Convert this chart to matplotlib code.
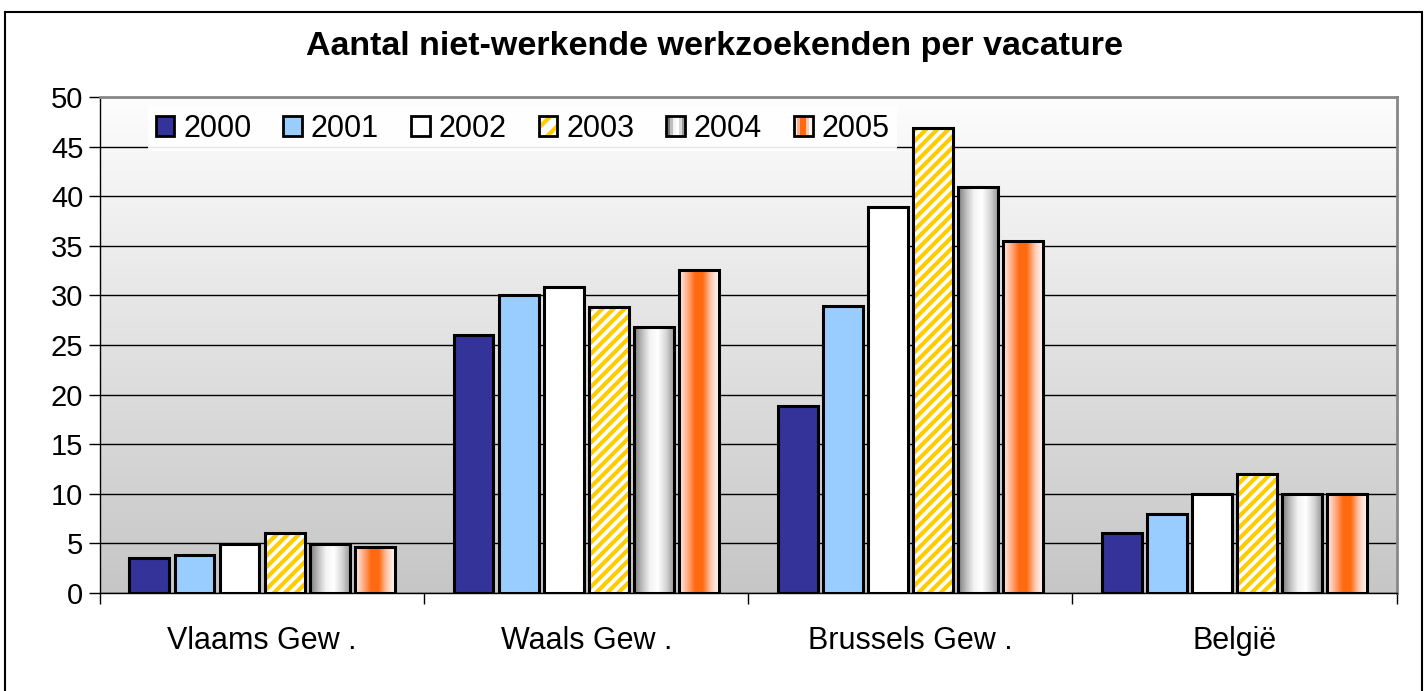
import numpy as np
import matplotlib
matplotlib.use("Agg")
import matplotlib.pyplot as plt
from matplotlib.patches import Rectangle, Patch
from matplotlib.legend_handler import HandlerBase
from matplotlib.colors import LinearSegmentedColormap

plt.rcParams['font.family'] = ['Liberation Sans', 'DejaVu Sans']
plt.rcParams['hatch.linewidth'] = 3.0

# data
categories = ["Vlaams Gew .", "Waals Gew .", "Brussels Gew .", "België"]
years = ["2000", "2001", "2002", "2003", "2004", "2005"]
v2000 = [3.5, 26.0, 18.9, 6.0]
v2001 = [3.8, 30.0, 28.9, 8.0]
v2002 = [4.9, 30.8, 38.9, 10.0]
v2003 = [6.0, 28.8, 46.9, 12.0]
v2004 = [4.9, 26.8, 40.9, 10.0]
v2005 = [4.6, 32.6, 35.5, 10.0]
series = [v2000, v2001, v2002, v2003, v2004, v2005]

# styles
grey_grad = ["#7a7a7a", "#bdbdbd", "#f4f4f4", "#ffffff", "#d8d8d8", "#9a9a9a"]
orange_grad = ["#fff2ee", "#ffb08a", "#ff6a10", "#ff6a10", "#ffc9b0", "#fffaf8"]
styles = [
    dict(kind="solid", color="#333399"),
    dict(kind="solid", color="#99CCFF"),
    dict(kind="solid", color="#FFFFFF"),
    dict(kind="hatch", color="#FFCC00"),
    dict(kind="grad", colors=grey_grad),
    dict(kind="grad", colors=orange_grad),
]

fig = plt.figure(figsize=(14.28, 6.91), dpi=100)
ax = fig.add_axes([0.070, 0.1418, 0.908, 0.7178])

x = np.arange(len(categories))
step = 0.139
width = 0.123
offsets = (np.arange(len(years)) - (len(years) - 1) / 2) * step

# background gradient
bg = np.linspace(0, 1, 256).reshape(-1, 1)
bg_cmap = LinearSegmentedColormap.from_list("bg", ["#c6c6c6", "#fdfdfd"])
ax.imshow(bg, cmap=bg_cmap, extent=(0, 1, 0, 1), transform=ax.transAxes,
          aspect='auto', origin='lower', zorder=0)

for vals, off, st in zip(series, offsets, styles):
    if st["kind"] == "solid":
        ax.bar(x + off, vals, width, color=st["color"], edgecolor="black",
               linewidth=2.2, zorder=3)
    elif st["kind"] == "hatch":
        ax.bar(x + off, vals, width, color="white", edgecolor=st["color"],
               hatch="///", linewidth=0, zorder=2)
        ax.bar(x + off, vals, width, facecolor="none", edgecolor="black",
               linewidth=2.2, zorder=3)
    else:
        cmap = LinearSegmentedColormap.from_list("g", st["colors"])
        grad = np.linspace(0, 1, 128).reshape(1, -1)
        bars = ax.bar(x + off, vals, width, facecolor="none",
                      edgecolor="black", linewidth=2.2, zorder=3)
        for b in bars:
            x0, y0 = b.get_x(), b.get_y()
            im = ax.imshow(grad, cmap=cmap, aspect='auto', zorder=2,
                           extent=(x0, x0 + b.get_width(), y0, y0 + b.get_height()))
            im.set_clip_path(b)

ax.set_xlim(-0.5, len(categories) - 0.5)
ax.set_ylim(0, 50)
ax.set_yticks(np.arange(0, 51, 5))
ax.yaxis.grid(True, color="black", linewidth=1.0)
ax.set_axisbelow(True)
ax.set_xticks(x)
ax.set_xticklabels(categories)
ax.set_xticks(np.arange(-0.5, len(categories)), minor=True)
ax.tick_params(axis='x', which='major', length=0, pad=24, labelsize=22)
ax.tick_params(axis='x', which='minor', length=8, width=1, color="black")
ax.tick_params(axis='y', length=8, width=1, labelsize=21, pad=4)

for s in ["top", "right"]:
    ax.spines[s].set_color("#888888")
    ax.spines[s].set_linewidth(2)
ax.spines["left"].set_linewidth(1)
ax.spines["bottom"].set_linewidth(1)


class SwatchHandler(HandlerBase):
    def __init__(self, colors, hatch_color=None):
        super().__init__()
        self.colors = colors
        self.hatch_color = hatch_color

    def create_artists(self, legend, orig_handle, xdescent, ydescent,
                       width, height, fontsize, trans):
        arts = []
        n = len(self.colors)
        for i, c in enumerate(self.colors):
            arts.append(Rectangle((-xdescent + i * width / n, -ydescent),
                                  width / n, height, facecolor=c,
                                  edgecolor='none', transform=trans))
        if self.hatch_color:
            arts.append(Rectangle((-xdescent, -ydescent), width, height,
                                  facecolor='none', edgecolor=self.hatch_color,
                                  hatch='//', linewidth=0, transform=trans))
        arts.append(Rectangle((-xdescent, -ydescent), width, height,
                              facecolor='none', edgecolor='black',
                              linewidth=2, transform=trans))
        return arts


handles = []
hmap = {}
for yr, st in zip(years, styles):
    h = Patch(label=yr)
    handles.append(h)
    if st["kind"] == "solid":
        hmap[h] = SwatchHandler([st["color"]])
    elif st["kind"] == "hatch":
        hmap[h] = SwatchHandler(["white"], hatch_color=st["color"])
    else:
        hmap[h] = SwatchHandler(st["colors"])

leg = ax.legend(handles=handles, handler_map=hmap, loc="upper left",
                bbox_to_anchor=(0.03, 1.0), ncol=6, fontsize=22,
                frameon=True, fancybox=False, edgecolor="none",
                facecolor="white", framealpha=0.9, handlelength=0.6,
                handleheight=0.6, handletextpad=0.3, columnspacing=1.05,
                borderpad=0.25, borderaxespad=0.3)
leg.set_zorder(5)

fig.text(0.5, 1 - 46 / 691, "Aantal niet-werkende werkzoekenden per vacature",
         ha="center", va="center", fontsize=24.5, fontweight="bold")

fig.patches.append(Rectangle((5 / 1428, -0.05), 1417 / 1428, 1 - 12 / 691 + 0.05,
                             transform=fig.transFigure, fill=False,
                             edgecolor="black", linewidth=1.5))

fig.savefig("out.png", dpi=100)
